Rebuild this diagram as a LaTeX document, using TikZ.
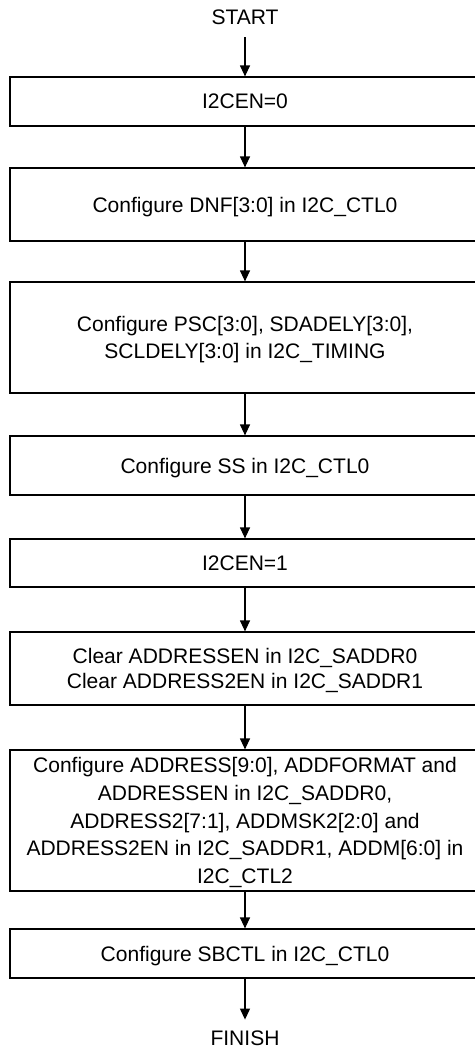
\documentclass[tikz,border=0pt]{standalone}
\usepackage{fontspec}
\setmainfont{Liberation Sans}
\usetikzlibrary{positioning,arrows.meta}

\begin{document}
\begin{tikzpicture}[x=1bp, y=-1bp, line width=1.2bp,
    font=\fontsize{21.1}{26.5}\selectfont,
    stepbox/.style={draw, minimum width=470bp, inner sep=0pt, align=center, text depth=0pt},
    term/.style={inner sep=0pt, text depth=0pt},
    flow/.style={-{Triangle[length=11bp, width=10bp]}}]
  % Frame of the page; the right side of the boxes runs off it as in the original
  \useasboundingbox (0,0) rectangle (475,1050);
  \clip (0,0) rectangle (475,1050);

  % Terminals
  \node[term] (start) at (245,17) {START};
  \node[term] (finish) at (245,1038.5) {FINISH};

  % Steps, top to bottom
  \node[stepbox, minimum height=49bp] (en0) at (245,101.5) {I2CEN=0};
  \node[stepbox, minimum height=73bp] (dnf) at (245,204.5) {Configure DNF[3:0] in I2C\_CTL0};
  \node[stepbox, minimum height=111bp] (timing) at (245,337.5)
    {Configure PSC[3:0], SDADELY[3:0],\\SCLDELY[3:0] in I2C\_TIMING};
  \node[stepbox, minimum height=59bp] (ss) at (245,465.5) {Configure SS in I2C\_CTL0};
  \node[stepbox, minimum height=48bp] (en1) at (245,563) {I2CEN=1};
  \node[stepbox, minimum height=73bp, font=\fontsize{21.1}{25}\selectfont] (clr) at (245,668.5)
    {Clear ADDRESSEN in I2C\_SADDR0\\Clear ADDRESS2EN in I2C\_SADDR1};
  \node[stepbox, minimum height=141bp, font=\fontsize{21.1}{27.7}\selectfont] (addr) at (245,820.5)
    {Configure ADDRESS[9:0], ADDFORMAT and\\ADDRESSEN in I2C\_SADDR0,\\ADDRESS2[7:1], ADDMSK2[2:0] and\\ADDRESS2EN in I2C\_SADDR1, ADDM[6:0] in\\I2C\_CTL2};
  \node[stepbox, minimum height=49bp] (sbctl) at (245,953.5) {Configure SBCTL in I2C\_CTL0};

  % Connectors
  \draw[flow, shorten <=12.5bp] (start) -- (en0);
  \foreach \from/\to in {en0/dnf, dnf/timing, timing/ss, ss/en1, en1/clr, clr/addr, addr/sbctl} {
    \draw[flow] (\from) -- (\to);
  }
  \draw[flow, shorten >=11bp] (sbctl) -- (finish);
\end{tikzpicture}
\end{document}
